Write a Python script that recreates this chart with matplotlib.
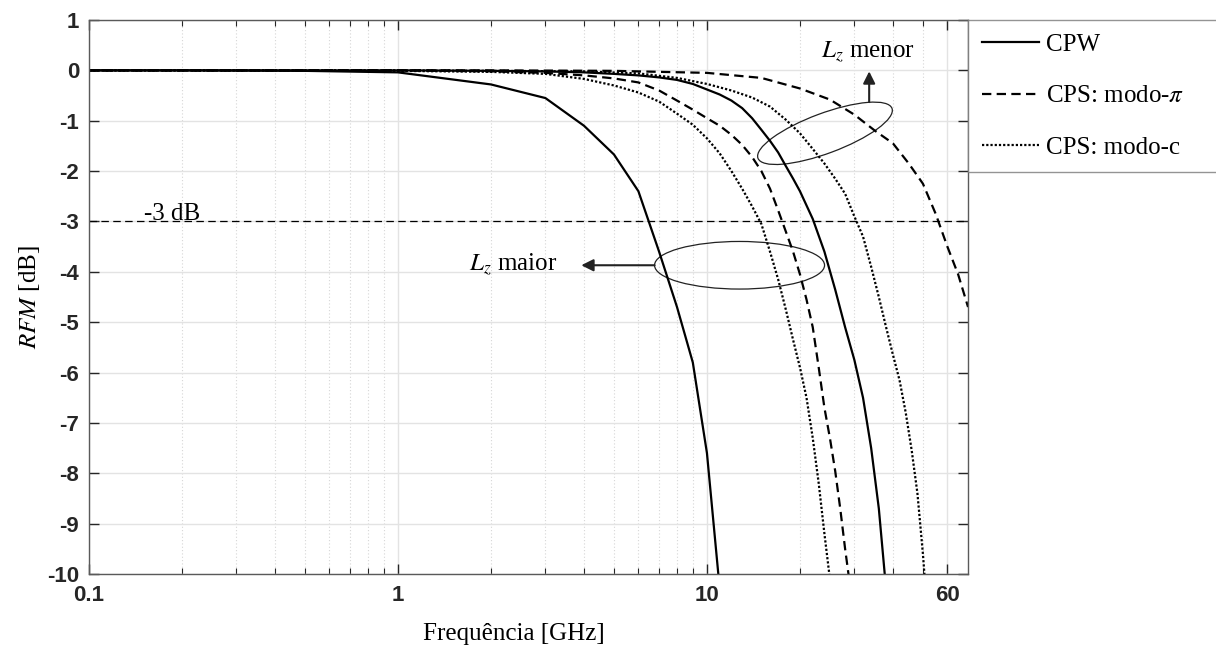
import matplotlib
matplotlib.use('Agg')
import matplotlib.pyplot as plt
import numpy as np
from matplotlib.patches import Ellipse
from matplotlib.transforms import ScaledTranslation

plt.rcParams['font.family'] = ['Liberation Serif', 'DejaVu Serif']
plt.rcParams['mathtext.fontset'] = 'stix'

# Curves (frequency in GHz, RFM in dB)
f_cpw_maior = [0.1, 0.2, 0.5, 1, 2, 3, 4, 5, 6, 7, 8, 9, 10, 11]
rfm_cpw_maior = [0, 0, -0.01, -0.04, -0.28, -0.55, -1.1, -1.67, -2.4, -3.6, -4.7, -5.8, -7.6, -10.3]

f_pi_maior = [0.1, 0.2, 0.5] + list(range(1, 30))
rfm_pi_maior = [0, 0, 0, 0, -0.02, -0.05, -0.1, -0.16, -0.24, -0.4, -0.6, -0.78, -0.95,
                -1.1, -1.28, -1.48, -1.72, -2.0, -2.35, -2.78, -3.2, -3.6, -4.05, -4.55,
                -5.1, -5.9, -6.7, -7.3, -7.95, -8.7, -9.5, -10.2]

f_c_maior = [0.1, 0.2, 0.5] + list(range(1, 26))
rfm_c_maior = [0, 0, 0, -0.01, -0.03, -0.07, -0.17, -0.3, -0.44, -0.62, -0.86, -1.08, -1.35,
               -1.65, -2.0, -2.35, -2.7, -3.05, -3.6, -4.15, -4.75, -5.35, -5.9, -6.5,
               -7.3, -8.2, -9.2, -10.1]

f_cpw_menor = [0.1, 0.2, 0.5] + list(range(1, 21)) + list(range(22, 39, 2))
rfm_cpw_menor = [0, 0, 0, 0, -0.01, -0.02, -0.04, -0.07, -0.1, -0.14, -0.19, -0.27, -0.38,
                 -0.48, -0.6, -0.75, -0.95, -1.18, -1.4, -1.63, -1.9, -2.15, -2.4,
                 -2.95, -3.6, -4.35, -5.1, -5.75, -6.5, -7.5, -8.7, -10.3]

f_c_menor = [0.1, 0.2, 0.5, 1, 2, 4, 6, 8] + list(range(10, 53, 2))
rfm_c_menor = [0, 0, 0, 0, -0.01, -0.02, -0.06, -0.15, -0.27, -0.4, -0.54, -0.72, -0.98,
               -1.25, -1.56, -1.85, -2.15, -2.45, -2.9, -3.3, -3.9, -4.5, -5.1, -5.65,
               -6.15, -6.8, -7.55, -8.4, -9.6, -11.0]

f_pi_menor = [0.1, 0.2, 0.5, 1, 2, 5, 10, 15, 20, 25, 30, 35, 40, 45, 50, 55, 60, 65, 70]
rfm_pi_menor = [0, 0, 0, 0, 0, -0.01, -0.05, -0.15, -0.36, -0.58, -0.88, -1.2, -1.45,
                -1.85, -2.25, -2.85, -3.5, -4.05, -4.7]

xticks = [0.1, 1, 10, 60]
xticklabels = ['0.1', '1', '10', '60']
xminor = [0.2, 0.3, 0.4, 0.5, 0.6, 0.7, 0.8, 0.9, 2, 3, 4, 5, 6, 7, 8, 9, 20, 30, 40, 50]
yticks = list(range(-10, 2))

fig = plt.figure(figsize=(12.16, 6.51), dpi=100)
ax = fig.add_axes([0.0732, 0.1183, 0.7229, 0.851])

solid = '-'
dashed = (0, (4.2, 2.4))
dotted = (0, (1, 0.9))
lw = 1.6

ax.plot(f_cpw_maior, rfm_cpw_maior, color='k', lw=lw, ls=solid, label='CPW')
ax.plot(f_pi_maior, rfm_pi_maior, color='k', lw=lw, ls=dashed, label=r'CPS: modo-$\pi$')
ax.plot(f_c_maior, rfm_c_maior, color='k', lw=lw, ls=dotted, label='CPS: modo-c')
ax.plot(f_cpw_menor, rfm_cpw_menor, color='k', lw=lw, ls=solid)
ax.plot(f_pi_menor, rfm_pi_menor, color='k', lw=lw, ls=dashed)
ax.plot(f_c_menor, rfm_c_menor, color='k', lw=lw, ls=dotted)

# -3 dB reference
ax.axhline(-3, color='k', lw=0.9, ls=(0, (6, 3.5)))
ax.text(0.186, -2.97, '-3 dB', ha='center', va='baseline', fontsize=18)

ax.set_xscale('log')
ax.set_xlim(0.1, 70)
ax.set_ylim(-10, 1)
ax.set_xticks(xticks)
ax.set_xticklabels(xticklabels)
ax.set_xticks(xminor, minor=True)
ax.set_xticklabels([], minor=True)
ax.set_yticks(yticks)
ax.set_yticklabels([str(v) for v in yticks])

ax.grid(True, which='major', color='#e3e3e3', lw=1, ls='-')
ax.grid(True, which='minor', axis='x', color='#d6d6d6', lw=0.8, ls=(0, (1, 2)))
ax.set_axisbelow(True)

ax.tick_params(which='both', direction='in', top=True, right=True, colors='#262626')
ax.tick_params(which='major', length=7, width=1, pad=7)
ax.tick_params(which='minor', length=4, width=0.8)
for lab in ax.get_xticklabels() + ax.get_yticklabels():
    lab.set_family('Liberation Sans')
    lab.set_fontweight('bold')
    lab.set_fontsize(16)
ax.tick_params(axis='x', pad=8)
for s in ax.spines.values():
    s.set_color('#5a5a5a')
    s.set_linewidth(1)

ax.set_xlabel('Frequência [GHz]', fontsize=18)
ax.xaxis.set_label_coords(0.483, -0.088)
ax.set_ylabel(r'$RFM$ [dB]', fontsize=18)
ax.yaxis.set_label_coords(-0.053, 0.5)

# ellipses and arrows
def ellipse_at(x, y, w, h, angle=0):
    tr = fig.dpi_scale_trans + ScaledTranslation(x, y, ax.transData)
    e = Ellipse((0, 0), w, h, angle=angle, transform=tr, fill=False,
                edgecolor='#222222', lw=0.9)
    ax.add_patch(e)

ellipse_at(12.75, -3.87, 1.70, 0.476)
ellipse_at(24.1, -1.25, 1.43, 0.40, angle=20.4)

arrow = dict(arrowstyle='-|>', color='#222222', lw=1.5, mutation_scale=18,
             shrinkA=0, shrinkB=0)
ax.annotate('', xy=(3.92, -3.87), xytext=(6.77, -3.87), arrowprops=arrow)
ax.annotate('', xy=(33.5, -0.02), xytext=(33.5, -0.63), arrowprops=arrow)
ax.text(3.29, -3.87, r'$L_z$ maior', ha='right', va='center', fontsize=18)
ax.text(33.1, 0.36, r'$L_z$ menor', ha='center', va='center', fontsize=18)

leg = ax.legend(loc='upper left', bbox_to_anchor=(1.0, 0.0, 0.5, 1.0), mode='expand',
                borderaxespad=0, fontsize=18, frameon=True, fancybox=False,
                handlelength=2.3, handletextpad=0.25, labelspacing=1.15, borderpad=0.55)
leg.get_frame().set_edgecolor('#7a7a7a')
leg.get_frame().set_linewidth(1)

fig.savefig('out.png', dpi=100)
